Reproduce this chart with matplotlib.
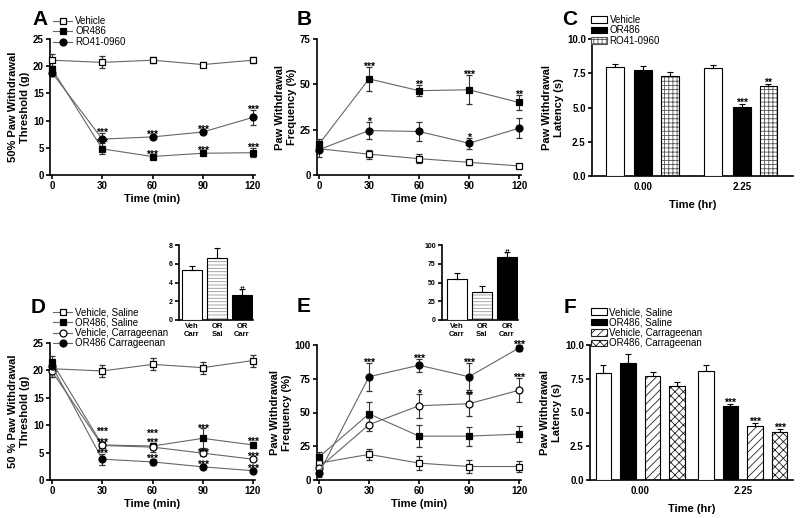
import matplotlib
matplotlib.use('Agg')
import matplotlib.pyplot as plt
from matplotlib.lines import Line2D
from matplotlib.patches import Patch

plt.rcParams['font.family'] = ['Liberation Sans', 'DejaVu Sans']
plt.rcParams['hatch.linewidth'] = 0.6
plt.rcParams['axes.linewidth'] = 1.2

time_min = [0, 30, 60, 90, 120]

# A: von Frey threshold (g)
a_vehicle = [21.1, 20.7, 21.1, 20.3, 21.1]
a_vehicle_err = [1.1, 1.1, 0.5, 0.4, 0.6]
a_or486 = [19.5, 4.8, 3.4, 4.0, 4.1]
a_or486_err = [0.6, 1.0, 0.3, 0.4, 0.8]
a_ro41 = [18.8, 6.6, 7.0, 7.9, 10.6]
a_ro41_err = [0.4, 1.2, 0.3, 0.3, 1.4]
a_or486_stars = ['', '***', '***', '***', '***']
a_ro41_stars = ['', '***', '***', '***', '***']

# B: withdrawal frequency (%)
b_vehicle = [14.5, 11.5, 9.0, 7.0, 5.0]
b_vehicle_err = [2.0, 2.5, 2.5, 1.5, 1.0]
b_or486 = [17.0, 53.0, 46.5, 47.0, 40.0]
b_or486_err = [3.0, 6.5, 3.0, 8.0, 4.0]
b_ro41 = [14.0, 24.5, 24.0, 17.5, 25.8]
b_ro41_err = [4.0, 4.5, 5.5, 3.0, 5.5]
b_or486_stars = ['', '***', '**', '***', '**']
b_ro41_stars = ['', '*', '', '*', '']

# C: latency (s)
latency_groups = ['0.00', '2.25']
c_vehicle = [7.95, 7.9]
c_vehicle_err = [0.2, 0.2]
c_or486 = [7.75, 5.05]
c_or486_err = [0.3, 0.2]
c_ro41 = [7.3, 6.55]
c_ro41_err = [0.3, 0.2]
c_or486_stars = ['', '***']
c_ro41_stars = ['', '**']

# D: threshold (g), saline vs carrageenan
d_veh_sal = [20.3, 19.9, 21.1, 20.5, 21.8]
d_veh_sal_err = [1.5, 1.1, 1.1, 1.1, 1.1]
d_or_sal = [21.5, 6.4, 6.2, 7.6, 6.4]
d_or_sal_err = [1.2, 0.5, 0.5, 1.8, 0.5]
d_veh_car = [19.8, 6.3, 6.0, 4.9, 3.8]
d_veh_car_err = [1.0, 0.5, 0.8, 0.5, 0.4]
d_or_car = [20.8, 3.8, 3.3, 2.4, 1.7]
d_or_car_err = [1.0, 1.0, 0.6, 0.3, 0.3]
d_or_sal_stars = ['', '***', '***', '***', '***']
d_veh_car_stars = ['', '***', '***', '***', '***']
d_or_car_stars = ['', '***', '***', '***', '***']

# E: frequency (%), saline vs carrageenan
e_veh_sal = [12.5, 19.0, 12.5, 10.0, 10.0]
e_veh_sal_err = [4.0, 4.0, 5.0, 5.0, 4.0]
e_or_sal = [17.0, 49.0, 32.5, 32.5, 34.0]
e_or_sal_err = [4.0, 8.5, 8.0, 7.0, 6.0]
e_veh_car = [9.0, 41.0, 55.0, 56.5, 66.5]
e_veh_car_err = [4.0, 5.0, 9.0, 9.0, 9.0]
e_or_car = [5.0, 76.5, 85.0, 76.5, 97.8]
e_or_car_err = [3.0, 10.5, 5.0, 10.0, 2.0]
e_veh_car_stars = ['', '', '*', '**', '***']
e_or_car_stars = ['', '***', '***', '***', '***']

# F: latency (s), four groups
f_veh_sal = [7.95, 8.1]
f_veh_sal_err = [0.55, 0.4]
f_or_sal = [8.7, 5.45]
f_or_sal_err = [0.6, 0.2]
f_veh_car = [7.7, 4.0]
f_veh_car_err = [0.3, 0.25]
f_or_car = [7.0, 3.55]
f_or_car_err = [0.25, 0.25]
f_stars = [['', ''], ['', '***'], ['', '***'], ['', '***']]

# insets: area under curve
inset_labels = ['Veh\nCarr', 'OR\nSal', 'OR\nCarr']
d_inset = [5.3, 6.6, 2.7]
d_inset_err = [0.5, 1.1, 0.6]
e_inset = [55, 37, 84]
e_inset_err = [8, 8, 7]
inset_marks = ['', '', '#']

W, H = 800, 518
fig = plt.figure(figsize=(W / 100, H / 100), dpi=100)

STAR_FS = 7.5
LINE_COL = '#666666'


def px_axes(l, t, r, b):
    return fig.add_axes([l / W, 1 - b / H, (r - l) / W, (b - t) / H])


def style(ax, size=7):
    for s in ('top', 'right'):
        ax.spines[s].set_visible(False)
    ax.tick_params(direction='out', length=3, width=1.2, labelsize=size, pad=1.5)


def bold_ticks(ax):
    for t in ax.get_xticklabels() + ax.get_yticklabels():
        t.set_fontweight('bold')


def line_series(ax, y, err, marker, filled, stars=None, dy=None):
    ax.errorbar(time_min, y, yerr=err, fmt='-', color=LINE_COL, lw=0.8,
                ecolor='#333333', elinewidth=0.8, capsize=2.5, capthick=0.8,
                marker=marker, ms=5, mfc='black' if filled else 'white',
                mec='black', mew=0.9, clip_on=False, zorder=3)
    if stars:
        for i, s in enumerate(stars):
            if s:
                off = dy[i] if dy else 0
                ax.annotate(s, (time_min[i], y[i] + err[i]), xytext=(0, -3.5 + off),
                            textcoords='offset points', ha='center', va='bottom',
                            fontsize=STAR_FS, fontweight='bold', zorder=5)


def time_axis(ax, ymax, yticks, ylabel):
    style(ax)
    ax.set_xlim(-1.2, 121.2)
    ax.set_ylim(0, ymax)
    ax.set_xticks(time_min)
    ax.set_yticks(yticks)
    ax.set_xlabel('Time (min)', fontsize=8, fontweight='bold', labelpad=2)
    ax.set_ylabel(ylabel, fontsize=8, fontweight='bold', labelpad=2)
    bold_ticks(ax)


def bar(ax, x, h, err, w, face, hatch=None, hatch_col='#555555', mark='', fs=STAR_FS):
    if hatch:
        ax.bar(x, h, w, color='white', edgecolor=hatch_col, hatch=hatch, lw=0, zorder=2)
        ax.bar(x, h, w, fill=False, edgecolor='black', lw=0.8, zorder=3)
    else:
        ax.bar(x, h, w, color=face, edgecolor='black', lw=0.8, zorder=3)
    ax.errorbar(x, h, yerr=[[0], [err]], fmt='none', ecolor='black', elinewidth=0.8,
                capsize=2.5, capthick=0.8, zorder=4)
    if mark:
        ax.annotate(mark, (x, h + err), xytext=(0, -3), textcoords='offset points',
                    ha='center', va='bottom', fontsize=fs, fontweight='bold', zorder=5)


def marker_handles(specs):
    return [Line2D([], [], color=LINE_COL, lw=0.8, marker=m, ms=5, mfc=c,
                   mec='black', mew=0.9) for m, c in specs]


LEG_KW = dict(loc='upper left', bbox_transform=fig.transFigure, frameon=False,
              handletextpad=0.3, labelspacing=0.05, borderpad=0, borderaxespad=0,
              prop={'size': 7})

# ---------------- A ----------------
axA = px_axes(50, 39, 255, 175)
time_axis(axA, 25, [0, 5, 10, 15, 20, 25], '50% Paw Withdrawal\nThreshold (g)')
line_series(axA, a_vehicle, a_vehicle_err, 's', False)
line_series(axA, a_or486, a_or486_err, 's', True, a_or486_stars)
line_series(axA, a_ro41, a_ro41_err, 'o', True, a_ro41_stars)
axA.legend(marker_handles([('s', 'white'), ('s', 'black'), ('o', 'black')]),
           ['Vehicle', 'OR486', 'RO41-0960'], bbox_to_anchor=(53 / W, 1 - 16 / H),
           handlelength=2.0, **LEG_KW)

# ---------------- B ----------------
axB = px_axes(317, 39, 521, 175)
time_axis(axB, 75, [0, 25, 50, 75], 'Paw Withdrawal\nFrequency (%)')
line_series(axB, b_vehicle, b_vehicle_err, 's', False)
line_series(axB, b_or486, b_or486_err, 's', True, b_or486_stars)
line_series(axB, b_ro41, b_ro41_err, 'o', True, b_ro41_stars)


def latency_axis(ax, xl):
    style(ax)
    ax.set_xlim(*xl)
    ax.set_ylim(0, 10)
    ax.set_yticks([0, 2.5, 5, 7.5, 10])
    ax.set_yticklabels(['0.0', '2.5', '5.0', '7.5', '10.0'])
    ax.set_xticks([0, 1])
    ax.set_xticklabels(latency_groups)
    ax.tick_params(axis='x', length=0, pad=4)
    ax.set_xlabel('Time (hr)', fontsize=8, fontweight='bold', labelpad=6)
    ax.set_ylabel('Paw Withdrawal\nLatency (s)', fontsize=8, fontweight='bold', labelpad=2)
    bold_ticks(ax)


# ---------------- C ----------------
axC = px_axes(592, 39, 793, 176)
latency_axis(axC, (-0.52, 1.52))
for g in range(2):
    bar(axC, g - 0.29, c_vehicle[g], c_vehicle_err[g], 0.18, 'white')
    bar(axC, g, c_or486[g], c_or486_err[g], 0.18, 'black', mark=c_or486_stars[g])
    bar(axC, g + 0.27, c_ro41[g], c_ro41_err[g], 0.18, 'white', hatch='++++',
        mark=c_ro41_stars[g])
hC = [Patch(facecolor='white', edgecolor='black', lw=0.8),
      Patch(facecolor='black', edgecolor='black', lw=0.8),
      Patch(facecolor='white', edgecolor='#555555', hatch='++++', lw=0.8)]
axC.legend(hC, ['Vehicle', 'OR486', 'RO41-0960'], bbox_to_anchor=(591 / W, 1 - 15 / H),
           handlelength=1.6, handleheight=0.6, **LEG_KW)

# ---------------- D ----------------
axD = px_axes(50, 343, 255, 480)
time_axis(axD, 25, [0, 5, 10, 15, 20, 25], '50 % Paw Withdrawal\nThreshold (g)')
line_series(axD, d_veh_sal, d_veh_sal_err, 's', False)
line_series(axD, d_or_sal, d_or_sal_err, 's', True, d_or_sal_stars, [0, 7, 7, 0, 0])
line_series(axD, d_veh_car, d_veh_car_err, 'o', False, d_veh_car_stars, [0, 0, 0, -2, 0])
line_series(axD, d_or_car, d_or_car_err, 'o', True, d_or_car_stars)
axD.legend(marker_handles([('s', 'white'), ('s', 'black'), ('o', 'white'), ('o', 'black')]),
           ['Vehicle, Saline', 'OR486, Saline', 'Vehicle, Carrageenan', 'OR486 Carrageenan'],
           bbox_to_anchor=(53 / W, 1 - 307 / H), handlelength=2.0, **LEG_KW)


def inset_axis(ax, xl, ymax, yticks):
    style(ax, 5)
    ax.tick_params(axis='x', length=0, labelsize=5.5, pad=2)
    ax.set_xlim(*xl)
    ax.set_ylim(0, ymax)
    ax.set_yticks(yticks)
    ax.set_xticks([0, 1, 2])
    ax.set_xticklabels(inset_labels)
    bold_ticks(ax)


# D inset
axDi = px_axes(179, 245, 253, 320)
inset_axis(axDi, (-0.52, 2.44), 8, [0, 2, 4, 6, 8])
bar(axDi, 0, d_inset[0], d_inset_err[0], 0.8, 'white', mark=inset_marks[0], fs=6)
bar(axDi, 1, d_inset[1], d_inset_err[1], 0.8, 'white', hatch='-----', hatch_col='#999999',
    mark=inset_marks[1], fs=6)
bar(axDi, 2, d_inset[2], d_inset_err[2], 0.8, 'black', mark=inset_marks[2], fs=6)

# ---------------- E ----------------
axE = px_axes(317, 345, 521, 480)
time_axis(axE, 100, [0, 25, 50, 75, 100], 'Paw Withdrawal\nFrequency (%)')
line_series(axE, e_veh_sal, e_veh_sal_err, 's', False)
line_series(axE, e_or_sal, e_or_sal_err, 's', True)
line_series(axE, e_veh_car, e_veh_car_err, 'o', False, e_veh_car_stars, [0, 0, 0, -3, 0])
line_series(axE, e_or_car, e_or_car_err, 'o', True, e_or_car_stars)

# E inset
axEi = px_axes(442, 245, 518, 320)
inset_axis(axEi, (-0.6, 2.44), 100, [0, 25, 50, 75, 100])
bar(axEi, 0, e_inset[0], e_inset_err[0], 0.8, 'white', mark=inset_marks[0], fs=6)
bar(axEi, 1, e_inset[1], e_inset_err[1], 0.8, 'white', hatch='-----', hatch_col='#999999',
    mark=inset_marks[1], fs=6)
bar(axEi, 2, e_inset[2], e_inset_err[2], 0.8, 'black', mark=inset_marks[2], fs=6)

# ---------------- F ----------------
axF = px_axes(590, 345, 793, 480)
latency_axis(axF, (-0.49, 1.49))
f_series = [(f_veh_sal, f_veh_sal_err, 'white', None),
            (f_or_sal, f_or_sal_err, 'black', None),
            (f_veh_car, f_veh_car_err, 'white', '////'),
            (f_or_car, f_or_car_err, 'white', 'xxxx')]
f_offsets = [-0.36, -0.12, 0.12, 0.36]
for k, (vals, errs, face, hatch) in enumerate(f_series):
    for g in range(2):
        bar(axF, g + f_offsets[k], vals[g], errs[g], 0.15, face, hatch=hatch,
            hatch_col='#222222', mark=f_stars[k][g])
hF = [Patch(facecolor='white', edgecolor='black', lw=0.8),
      Patch(facecolor='black', edgecolor='black', lw=0.8),
      Patch(facecolor='white', edgecolor='#222222', hatch='////', lw=0.8),
      Patch(facecolor='white', edgecolor='#222222', hatch='xxxx', lw=0.8)]
axF.legend(hF, ['Vehicle, Saline', 'OR486, Saline', 'Vehicle, Carrageenan', 'OR486, Carrageenan'],
           bbox_to_anchor=(591 / W, 1 - 307 / H), handlelength=1.6, handleheight=0.6, **LEG_KW)

# panel letters
for letter, x, y in [('A', 32, 10), ('B', 297, 10), ('C', 562, 10),
                     ('D', 31, 298), ('E', 297, 297), ('F', 564, 298)]:
    fig.text(x / W, 1 - y / H, letter, fontsize=15, fontweight='bold', ha='left', va='top')

fig.savefig('out.png', dpi=100)
